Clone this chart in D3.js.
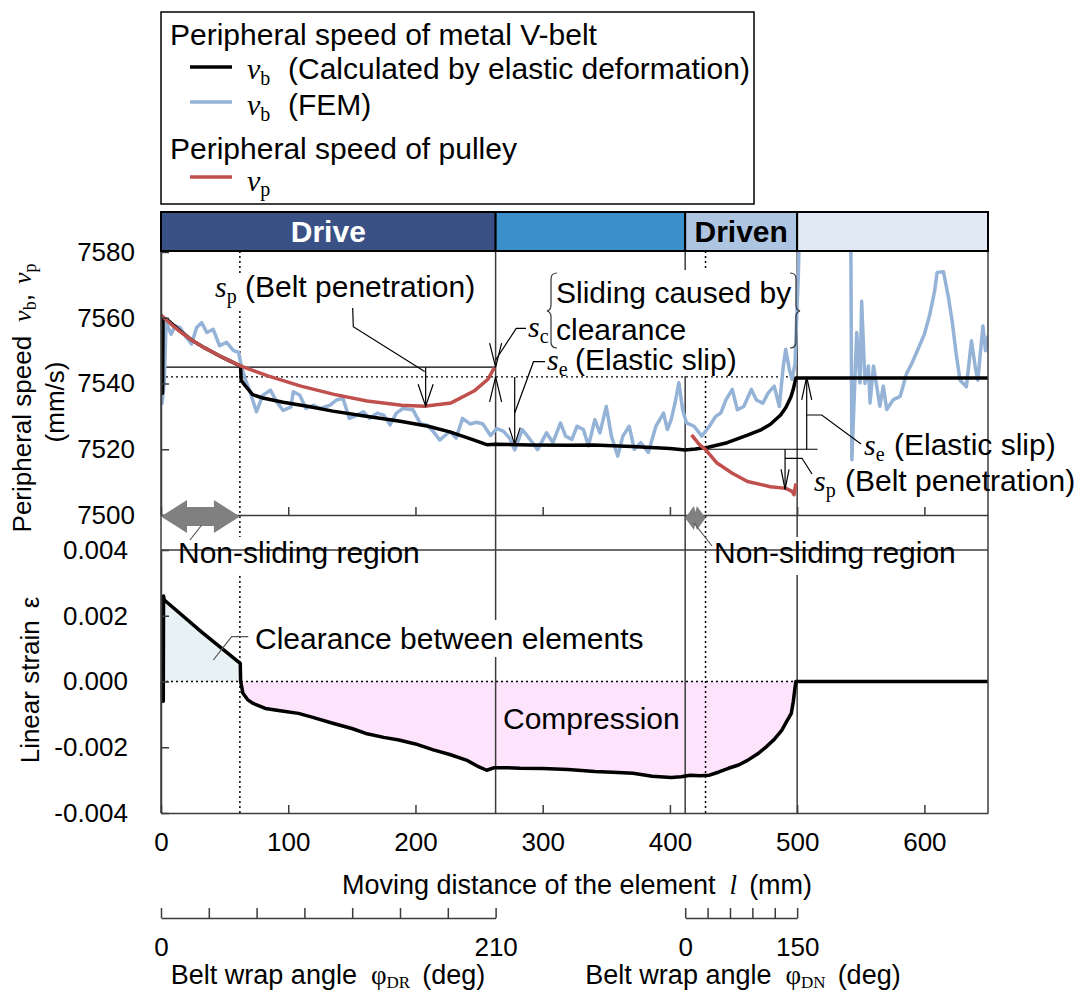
<!DOCTYPE html>
<html>
<head>
<meta charset="utf-8">
<script src="https://cdn.jsdelivr.net/npm/d3@7"></script>
<style>
  body { margin: 0; background: #fff; }
  svg { display: block; font-family: "Liberation Sans", Arial, sans-serif; }
</style>
</head>
<body>
<svg id="chart" width="1076" height="995"></svg>
<script>
// ---------------------------------------------------------------------------
// Data
// ---------------------------------------------------------------------------
const distanceTicks = [0, 100, 200, 300, 400, 500, 600];
const speedTicks = [7500, 7520, 7540, 7560, 7580];
const strainTicks = [-0.004, -0.002, 0, 0.002, 0.004];
const wrapDriveTicks = [0, 30, 60, 90, 120, 150, 180, 210];
const wrapDrivenTicks = [0, 30, 60, 90, 120, 150];
const wrapDriveLabels = [0, 210];
const wrapDrivenLabels = [0, 150];

// belt path sections along the moving distance l (mm)
const sectionNames = ["Drive", "", "Driven", ""];
const sectionStart = [0, 263, 412, 500];
const sectionEnd = [263, 412, 500, 650];
const driveStickEnd = 62;     // end of non-sliding region on drive pulley
const drivenStickEnd = 428;   // end of non-sliding region on driven pulley

// reference speeds used by the slip annotations (mm/s)
const vDriveEntry = 7545;
const vExit = 7542;
const vDrivenEntry = 7520;

// belt speed from elastic deformation [l, vb]
const vbCalculated = [
  [0, 7537], [1.2, 7537], [1.6, 7560], [5, 7559.4], [15, 7556], [25, 7553], [34, 7550.9],
  [48, 7548], [62.5, 7545.3], [63, 7541], [66, 7539.4], [72, 7536.6], [80, 7535.6],
  [96, 7534.3], [115, 7533.1], [135, 7531.6], [160, 7530.1], [188, 7528.5], [210, 7527],
  [227, 7525.3], [245, 7522.9], [256, 7521.4], [263, 7521.5], [290, 7521.3], [320, 7521.2],
  [340, 7521.3], [370, 7520.8], [400, 7520.2], [412, 7519.8], [420, 7520.1], [430, 7520.6],
  [445, 7522], [461, 7524.3], [472, 7526], [479, 7527.6], [487, 7530.4], [491, 7532.6],
  [495, 7535.8], [497, 7538.3], [499, 7541.7], [650, 7541.7]
];

// belt speed from FEM [l, vb]; between ~502 and ~542 mm it runs above 7580
const vbFEM = [
  [0.7, 7533.6], [2.5, 7540.2], [4, 7558.5], [8, 7555], [11, 7557.5], [15, 7557], [20, 7554],
  [24, 7552], [28, 7557], [32, 7558.5], [36, 7555.5], [41, 7556.5], [46, 7551.5], [51.6, 7552.5],
  [57, 7550], [61, 7549.5], [63, 7545.5], [66, 7541.5], [70, 7537.5], [75, 7531.4], [80, 7536.4],
  [86, 7538], [91, 7534.4], [96, 7531.8], [102, 7532.8], [104, 7537.5], [109, 7536.5],
  [114, 7532.4], [120, 7533.4], [125, 7532.4], [133, 7533.4], [138, 7535], [143, 7535.5],
  [148, 7529.4], [154, 7530.4], [159, 7531.4], [164, 7529.4], [170, 7531], [175, 7530.4],
  [180, 7527.4], [185, 7531], [190, 7532.4], [198, 7532], [204, 7527.7], [209, 7527.4],
  [214, 7525.4], [219, 7522.8], [227, 7525.4], [232, 7523.4], [237, 7529.4], [243, 7527.7],
  [248, 7528.2], [253, 7527.7], [259, 7524.2], [264, 7526.3], [269, 7525.5], [274, 7523.4],
  [278, 7519.8], [284, 7526], [290, 7523], [296, 7519.9], [303, 7525], [308, 7522], [314, 7528],
  [318, 7524], [323, 7523], [327, 7527], [332, 7526], [336, 7521], [341, 7529], [345, 7525],
  [350, 7533], [354, 7524], [359, 7517.9], [363, 7524], [368, 7527], [372, 7520], [377, 7522],
  [383, 7519], [389, 7527], [395, 7531], [398, 7526], [401, 7529], [404, 7534], [407, 7540.2],
  [410, 7532], [413, 7528], [419, 7527], [425, 7524], [431, 7527], [436, 7530], [440, 7531],
  [444, 7535], [449, 7538.2], [453, 7532], [458, 7533], [464, 7538.2], [468, 7535], [473, 7534],
  [477, 7537], [482, 7539.2], [486, 7533], [489, 7545], [491, 7550.4], [494, 7544], [496, 7541.3],
  [498.3, 7546], [501, 7573.9], [502.5, 7600], [542, 7600], [543, 7516.8], [546.8, 7555.5],
  [549.4, 7540.2], [550.7, 7565], [553.3, 7540], [556, 7545.3], [557.3, 7534.1], [560, 7545.3],
  [565, 7533.1], [567.7, 7539.2], [570.4, 7532.1], [575.6, 7535.1], [581, 7536.1], [586, 7543],
  [590, 7546], [595, 7550.4], [600, 7555], [604, 7560.6], [608, 7568], [610, 7573.8], [615, 7574],
  [619, 7566], [622, 7558.5], [625, 7549], [628, 7541], [633, 7539], [637, 7553], [640, 7545],
  [642, 7541], [646, 7557.5], [648, 7550], [650, 7554.5]
];

// pulley peripheral speed [l, vp]
const vpDrive = [
  [0, 7560.8], [8, 7558], [16, 7555.5], [25, 7553], [34, 7550.9], [48, 7548], [63, 7545.3],
  [84, 7542.3], [110, 7539.2], [136, 7536.7], [162, 7534.7], [189, 7533.4], [207, 7533.1],
  [228, 7534.1], [246, 7537.7], [257, 7541.3], [262, 7544.8]
];
const vpDriven = [
  [417, 7524.4], [423, 7521.5], [428, 7519.9], [437, 7515.8], [449, 7512.7], [461, 7510.2],
  [479, 7508.6], [491, 7508.1], [496, 7507.2], [497.5, 7506.2], [499, 7509.6]
];

// linear strain of the belt [l, epsilon]
const strain = [
  [1, 0], [1.3, -0.0006], [1.8, -0.0006], [2, 0.0026], [2.6, 0.00248], [32, 0.0015],
  [62.3, 0.00055], [62.6, 0], [64.4, -0.00036], [68, -0.00055], [72, -0.00066], [82, -0.00082],
  [95, -0.0009], [108, -0.00097], [120, -0.0011], [135, -0.00127], [150, -0.00143],
  [161, -0.00158], [175, -0.0017], [187, -0.00178], [200, -0.0019], [214, -0.00208],
  [227, -0.00222], [240, -0.00239], [250, -0.0026], [256, -0.0027], [262, -0.00262],
  [270, -0.00262], [282, -0.00264], [300, -0.00265], [320, -0.00268], [341, -0.00274],
  [355, -0.00276], [371, -0.00279], [386, -0.00288], [401, -0.00292], [409, -0.0029],
  [416, -0.00285], [424, -0.00287], [431, -0.00285], [438, -0.00276], [446, -0.00264],
  [454, -0.00254], [461, -0.0024], [469, -0.0022], [476, -0.00198], [482, -0.00176],
  [488, -0.00148], [492, -0.0012], [495.4, -0.00097], [497, -0.0006], [498.4, -0.00016],
  [499, 0], [650, 0]
];

// ---------------------------------------------------------------------------
// Styles
// ---------------------------------------------------------------------------
const SERIF = '"Liberation Serif", "Times New Roman", serif';
const C_CALC = "#000000", C_FEM = "#95b3d7", C_PULLEY = "#c0504d";
const C_FRAME = "#3c3c3c", C_ARROW = "#808080";
const SECTION_FILL = ["#3a5185", "#3b8fcb", "#aec5e1", "#e1eaf4"];
const SECTION_TEXT = ["#ffffff", "#000", "#000000", "#000"];

const svg = d3.select("#chart");

// ---------------------------------------------------------------------------
// Scales
// ---------------------------------------------------------------------------
const x = d3.scaleLinear().domain([0, 650]).range([161, 988]);
const yV = d3.scaleLinear().domain([7500, 7580]).range([515, 252]);
const yS = d3.scaleLinear().domain([-0.004, 0.004]).range([813, 550]);
const phiDR = d3.scaleLinear().domain([0, 210]).range([x(sectionStart[0]), x(sectionEnd[0])]);
const phiDN = d3.scaleLinear().domain([0, 150]).range([x(sectionStart[2]), x(sectionEnd[2])]);

const bandTop = 212, bandBottom = 251;

// text with italic symbols and subscripts
function rich(parent, xPos, yPos, parts, o = {}) {
  const size = o.size || 30;
  const subSize = o.subSize || Math.round(size * 0.68);
  const drop = o.drop || Math.round(size * 0.2);
  const t = parent.append("text")
    .attr("x", xPos).attr("y", yPos)
    .attr("font-size", size).attr("fill", o.fill || "#000");
  if (o.anchor) t.attr("text-anchor", o.anchor);
  if (o.transform) t.attr("transform", o.transform);
  let lowered = false;
  for (const p of parts) {
    const s = t.append("tspan").text(p.t);
    if (p.x != null) s.attr("x", p.x);
    if (p.dx != null) s.attr("dx", p.dx);
    if (p.it) s.attr("font-family", SERIF).attr("font-style", "italic");
    if (p.serif) s.attr("font-family", SERIF);
    if (p.sub) {
      s.attr("font-family", SERIF).attr("font-size", subSize);
      if (!lowered) { s.attr("dy", drop); lowered = true; }
    } else if (lowered) {
      s.attr("dy", -drop); lowered = false;
    }
  }
  return t;
}

function seg(g, x1, y1, x2, y2, o = {}) {
  return g.append("line").attr("x1", x1).attr("y1", y1).attr("x2", x2).attr("y2", y2)
    .attr("stroke", o.stroke || "#000").attr("stroke-width", o.width || 1.2)
    .attr("stroke-dasharray", o.dash || null);
}

function poly(g, pts, o = {}) {
  return g.append("path").attr("d", d3.line()(pts) + (o.closed ? "Z" : ""))
    .attr("fill", o.fill || "none").attr("stroke", o.stroke || "#000")
    .attr("stroke-width", o.width || 1.2).attr("stroke-linejoin", "miter");
}

// open V arrowhead; dir = +1 points down, -1 points up
function head(g, tx, ty, dir, len = 24, hw = 6) {
  poly(g, [[tx - hw, ty - dir * len], [tx, ty], [tx + hw, ty - dir * len]]);
}

// ---------------------------------------------------------------------------
// Layers
// ---------------------------------------------------------------------------
const gFill = svg.append("g");
const gGrid = svg.append("g");
const gBg = svg.append("g");
const gData = svg.append("g");
const gAxes = svg.append("g");
const gNote = svg.append("g");

function bg(xPos, yPos, w, h) {
  gBg.append("rect").attr("x", xPos).attr("y", yPos).attr("width", w).attr("height", h).attr("fill", "#fff");
}

svg.append("defs").append("clipPath").attr("id", "upperClip")
  .append("rect").attr("x", x(0)).attr("y", bandBottom)
  .attr("width", x(650) - x(0)).attr("height", yV(7500) - bandBottom);

// ---------------------------------------------------------------------------
// Legend
// ---------------------------------------------------------------------------
const gLeg = svg.append("g");
gLeg.append("rect").attr("x", 161).attr("y", 12).attr("width", 593).attr("height", 192)
  .attr("fill", "#fff").attr("stroke", "#000").attr("stroke-width", 1.5);
rich(gLeg, 170, 45, [{ t: "Peripheral speed of metal V-belt" }]);
seg(gLeg, 190, 67, 232, 67, { stroke: C_CALC, width: 3.5 });
rich(gLeg, 247, 79, [{ t: "v", it: true }, { t: "b", sub: true }, { t: "(Calculated by elastic deformation)", x: 288 }]);
seg(gLeg, 190, 102, 232, 102, { stroke: C_FEM, width: 3.5 });
rich(gLeg, 247, 115, [{ t: "v", it: true }, { t: "b", sub: true }, { t: "(FEM)", x: 288 }]);
rich(gLeg, 170, 159, [{ t: "Peripheral speed of pulley" }]);
seg(gLeg, 190, 177, 232, 177, { stroke: C_PULLEY, width: 3.5 });
rich(gLeg, 247, 191, [{ t: "v", it: true }, { t: "p", sub: true }], { drop: 5 });

// ---------------------------------------------------------------------------
// Section band
// ---------------------------------------------------------------------------
const gBand = svg.append("g");
sectionNames.forEach((name, i) => {
  gBand.append("rect")
    .attr("x", x(sectionStart[i])).attr("y", bandTop)
    .attr("width", x(sectionEnd[i]) - x(sectionStart[i])).attr("height", bandBottom - bandTop)
    .attr("fill", SECTION_FILL[i]).attr("stroke", "#000").attr("stroke-width", 2);
  if (name) {
    gBand.append("text")
      .attr("x", (x(sectionStart[i]) + x(sectionEnd[i])) / 2).attr("y", 242)
      .attr("text-anchor", "middle").attr("font-size", 30).attr("font-weight", "bold")
      .attr("fill", SECTION_TEXT[i]).text(name);
  }
});

// ---------------------------------------------------------------------------
// Strain fills
// ---------------------------------------------------------------------------
const areaS = d3.area().x(d => x(d[0])).y0(yS(0)).y1(d => yS(d[1]));
gFill.append("path").attr("d", areaS(strain.filter(d => d[0] >= 2 && d[0] <= 62.6)))
  .attr("fill", "#e8f1f4");
gFill.append("path").attr("d", areaS(strain.filter(d => d[0] >= 62.6 && d[0] <= 499)))
  .attr("fill", "#fde3fc");

// ---------------------------------------------------------------------------
// Guide lines
// ---------------------------------------------------------------------------
[sectionEnd[0], sectionEnd[1], sectionEnd[2]].forEach(l =>
  seg(gGrid, x(l), bandBottom, x(l), yS(-0.004), { stroke: C_FRAME, width: 1.5 }));
[driveStickEnd, drivenStickEnd].forEach(l =>
  seg(gGrid, x(l), bandBottom, x(l), yS(-0.004), { stroke: "#000", width: 1.5, dash: "2,3" }));
seg(gGrid, x(0), yV(vExit), x(sectionEnd[2]), yV(vExit), { dash: "2,3", width: 1.3 });
seg(gGrid, x(0), yV(vDriveEntry), x(sectionEnd[0]), yV(vDriveEntry), { width: 1.2 });
seg(gGrid, x(drivenStickEnd), yV(vDrivenEntry), x(516), yV(vDrivenEntry), { width: 1.2 });
seg(gGrid, x(0), yS(0), x(sectionEnd[2]), yS(0), { dash: "2,3", width: 1.3 });

// ---------------------------------------------------------------------------
// Label backgrounds (hide guide lines behind text)
// ---------------------------------------------------------------------------
bg(212, 274, 266, 34);     // sp (Belt penetration) - drive
bg(550, 270, 241, 79);     // Sliding caused by clearance
bg(544, 347, 197, 29);     // se (Elastic slip) - drive
bg(858, 430, 204, 36);     // se (Elastic slip) - driven
bg(810, 466, 266, 36);     // sp (Belt penetration) - driven
bg(175, 537, 246, 36);     // Non-sliding region - drive
bg(711, 537, 246, 38);     // Non-sliding region - driven
bg(251, 620, 395, 37);     // Clearance between elements

// ---------------------------------------------------------------------------
// Data curves
// ---------------------------------------------------------------------------
const lineV = d3.line().x(d => x(d[0])).y(d => yV(d[1]));
const gUpper = gData.append("g").attr("clip-path", "url(#upperClip)");
gUpper.append("path").attr("d", lineV(vbFEM)).attr("fill", "none")
  .attr("stroke", C_FEM).attr("stroke-width", 3.5).attr("stroke-linejoin", "round");
gUpper.append("path").attr("d", lineV(vbCalculated)).attr("fill", "none")
  .attr("stroke", C_CALC).attr("stroke-width", 3.5).attr("stroke-linejoin", "round");
[vpDrive, vpDriven].forEach(s =>
  gUpper.append("path").attr("d", lineV(s)).attr("fill", "none")
    .attr("stroke", C_PULLEY).attr("stroke-width", 3.5).attr("stroke-linejoin", "round"));

const lineS = d3.line().x(d => x(d[0])).y(d => yS(d[1]));
gData.append("path").attr("d", lineS(strain)).attr("fill", "none")
  .attr("stroke", "#000").attr("stroke-width", 3.5).attr("stroke-linejoin", "round");

// ---------------------------------------------------------------------------
// Axes
// ---------------------------------------------------------------------------
function styleAxis(g, size) {
  g.selectAll("path, line").attr("stroke", C_FRAME).attr("stroke-width", 1.5);
  g.selectAll("text").attr("font-family", '"Liberation Sans", Arial, sans-serif')
    .attr("font-size", size).attr("fill", "#000");
  g.attr("font-family", null).attr("font-size", null);
}

// frame verticals and top of the strain panel
seg(gAxes, x(0), bandBottom, x(0), yS(-0.004), { stroke: C_FRAME, width: 1.5 });
seg(gAxes, x(650), bandBottom, x(650), yS(-0.004), { stroke: C_FRAME, width: 1.5 });
seg(gAxes, x(0), yS(0.004), x(650), yS(0.004), { stroke: C_FRAME, width: 1.5 });

gAxes.append("g").attr("transform", `translate(0,${yV(7500)})`)
  .call(d3.axisBottom(x).tickValues(distanceTicks).tickSize(-8).tickSizeOuter(0).tickFormat(""))
  .call(g => styleAxis(g, 26));
gAxes.append("g").attr("transform", `translate(0,${yS(-0.004)})`)
  .call(d3.axisBottom(x).tickValues(distanceTicks).tickSize(-8).tickSizeOuter(0).tickPadding(20)
    .tickFormat(d => String(d)))
  .call(g => styleAxis(g, 26));
gAxes.append("g").attr("transform", `translate(${x(0)},0)`)
  .call(d3.axisLeft(yV).tickValues(speedTicks).tickSize(-8).tickSizeOuter(0).tickPadding(26)
    .tickFormat(d => String(d)))
  .call(g => styleAxis(g, 26));
gAxes.append("g").attr("transform", `translate(${x(0)},0)`)
  .call(d3.axisLeft(yS).tickValues(strainTicks).tickSize(-8).tickSizeOuter(0).tickPadding(33)
    .tickFormat(d => d.toFixed(3)))
  .call(g => styleAxis(g, 26));

// belt wrap angle scales
gAxes.append("g").attr("transform", "translate(0,918)")
  .call(d3.axisBottom(phiDR).tickValues(wrapDriveTicks).tickSize(-10).tickSizeOuter(0).tickPadding(20)
    .tickFormat(d => wrapDriveLabels.includes(d) ? String(d) : ""))
  .call(g => styleAxis(g, 26));
gAxes.append("g").attr("transform", "translate(0,918)")
  .call(d3.axisBottom(phiDN).tickValues(wrapDrivenTicks).tickSize(-10).tickSizeOuter(0).tickPadding(20)
    .tickFormat(d => wrapDrivenLabels.includes(d) ? String(d) : ""))
  .call(g => styleAxis(g, 26));

// axis titles
rich(gAxes, 0, 0, [{ t: "Peripheral speed" }, { t: "v", it: true, dx: 14 }, { t: "b", sub: true }, { t: "," },
  { t: "v", it: true, dx: 10 }, { t: "p", sub: true }],
  { size: 26, anchor: "middle", transform: "translate(31,398) rotate(-90)" });
rich(gAxes, 0, 0, [{ t: "(mm/s)" }], { size: 26, anchor: "middle", transform: "translate(64,402) rotate(-90)" });
rich(gAxes, 0, 0, [{ t: "Linear strain" }, { t: "ε", dx: 12 }],
  { size: 26, anchor: "middle", transform: "translate(39,680) rotate(-90)" });
rich(gAxes, 577, 894, [{ t: "Moving distance of the element" }, { t: "l", it: true, dx: 14 }, { t: "(mm)", dx: 12 }],
  { size: 27, anchor: "middle" });
rich(gAxes, 328, 984, [{ t: "Belt wrap angle" }, { t: "φ", serif: true, dx: 14 }, { t: "DR", sub: true },
  { t: "(deg)", dx: 12 }], { size: 27, subSize: 17, drop: 4, anchor: "middle" });
rich(gAxes, 743, 984, [{ t: "Belt wrap angle" }, { t: "φ", serif: true, dx: 14 }, { t: "DN", sub: true },
  { t: "(deg)", dx: 12 }], { size: 27, subSize: 17, drop: 4, anchor: "middle" });

// ---------------------------------------------------------------------------
// Annotations
// ---------------------------------------------------------------------------
// non-sliding region arrows
const aY = 516.5;
const ax0 = x(0), ax1 = x(driveStickEnd);
poly(gNote, [[ax0, aY], [ax0 + 26, aY - 16.5], [ax0 + 26, aY - 9.5], [ax1 - 26, aY - 9.5],
  [ax1 - 26, aY - 16.5], [ax1, aY], [ax1 - 26, aY + 16.5], [ax1 - 26, aY + 9.5],
  [ax0 + 26, aY + 9.5], [ax0 + 26, aY + 16.5]], { fill: C_ARROW, stroke: "none", closed: true });
const s0 = x(sectionStart[2]), s1 = x(drivenStickEnd), sm = (s0 + s1) / 2, sY = 518;
poly(gNote, [[s0, sY], [sm - 1.5, sY - 12], [sm, sY - 6], [sm + 1.5, sY - 12],
  [s1, sY], [sm + 1.5, sY + 12], [sm, sY + 6], [sm - 1.5, sY + 12]], { fill: C_ARROW, stroke: "none", closed: true });
seg(gNote, 201.7, 525, 190, 540, { stroke: "#555" });
seg(gNote, 694, 523, 712, 546, { stroke: "#555" });
rich(gNote, 178, 563, [{ t: "Non-sliding region" }]);
rich(gNote, 714, 563, [{ t: "Non-sliding region" }]);

// belt penetration on the drive pulley
const spX = x(208);
seg(gNote, spX, yV(vDriveEntry), spX, yV(7533.1));
head(gNote, spX, yV(7533.1), 1, 22, 7.5);
poly(gNote, [[352.7, 308], [353.3, 326.7], [spX - 1, 371.5]]);
rich(gNote, 215, 297, [{ t: "s", it: true }, { t: "p", sub: true }, { t: "(Belt penetration)", x: 245 }]);

// clearance sliding at the drive exit
const bx = x(sectionEnd[0]);
head(gNote, bx, yV(vDriveEntry), 1, 24, 6);
head(gNote, bx, yV(vExit), -1, 25, 6);
poly(gNote, [[bx, 360], [516.3, 328.3], [526, 328.3]]);
rich(gNote, 528, 337, [{ t: "s", it: true }, { t: "c", sub: true }]);
gNote.append("path").attr("d", "M557,273 Q551,273 551,279 L551,305 Q551,310 547,311 Q551,312 551,317 L551,342 Q551,348 557,348")
  .attr("fill", "none").attr("stroke", "#333").attr("stroke-width", 1.2);
gNote.append("path").attr("d", "M790,273 Q796,273 796,279 L796,305 Q796,310 800,311 Q796,312 796,317 L796,342 Q796,348 790,348")
  .attr("fill", "none").attr("stroke", "#333").attr("stroke-width", 1.2);
rich(gNote, 556, 303, [{ t: "Sliding caused by" }]);
rich(gNote, 556, 340, [{ t: "clearance" }]);

// elastic slip on the drive pulley
const seX = x(278);
seg(gNote, seX, yV(vExit), seX, yV(7521.4));
head(gNote, seX, yV(7521.4), 1, 17, 5.5);
poly(gNote, [[seX, 413], [533.5, 361.7], [545, 361.7]]);
rich(gNote, 547, 370, [{ t: "s", it: true }, { t: "e", sub: true }, { t: "(Elastic slip)", x: 575 }]);

// elastic slip on the driven pulley
const se2X = x(507.5);
seg(gNote, se2X, yV(vDrivenEntry), se2X, yV(vExit));
head(gNote, se2X, yV(vExit), -1, 23, 5);
poly(gNote, [[se2X, 415], [821.7, 415], [861, 444]]);
rich(gNote, 864, 455, [{ t: "s", it: true }, { t: "e", sub: true }, { t: "(Elastic slip)", x: 894 }]);

// belt penetration on the driven pulley
const sp2X = x(490.5);
seg(gNote, sp2X, yV(vDrivenEntry), sp2X, yV(7507.8));
head(gNote, sp2X, yV(7507.8), 1, 20, 4);
poly(gNote, [[sp2X, 458.3], [802, 458.3], [812, 474]]);
rich(gNote, 814, 491, [{ t: "s", it: true }, { t: "p", sub: true }, { t: "(Belt penetration)", x: 845 }]);

// clearance between elements and compression zone
poly(gNote, [[213.3, 660], [231.7, 636.7], [248.3, 636.7]], { stroke: "#555" });
rich(gNote, 255, 649, [{ t: "Clearance between elements" }]);
rich(gNote, 503, 729, [{ t: "Compression" }]);
</script>
</body>
</html>
